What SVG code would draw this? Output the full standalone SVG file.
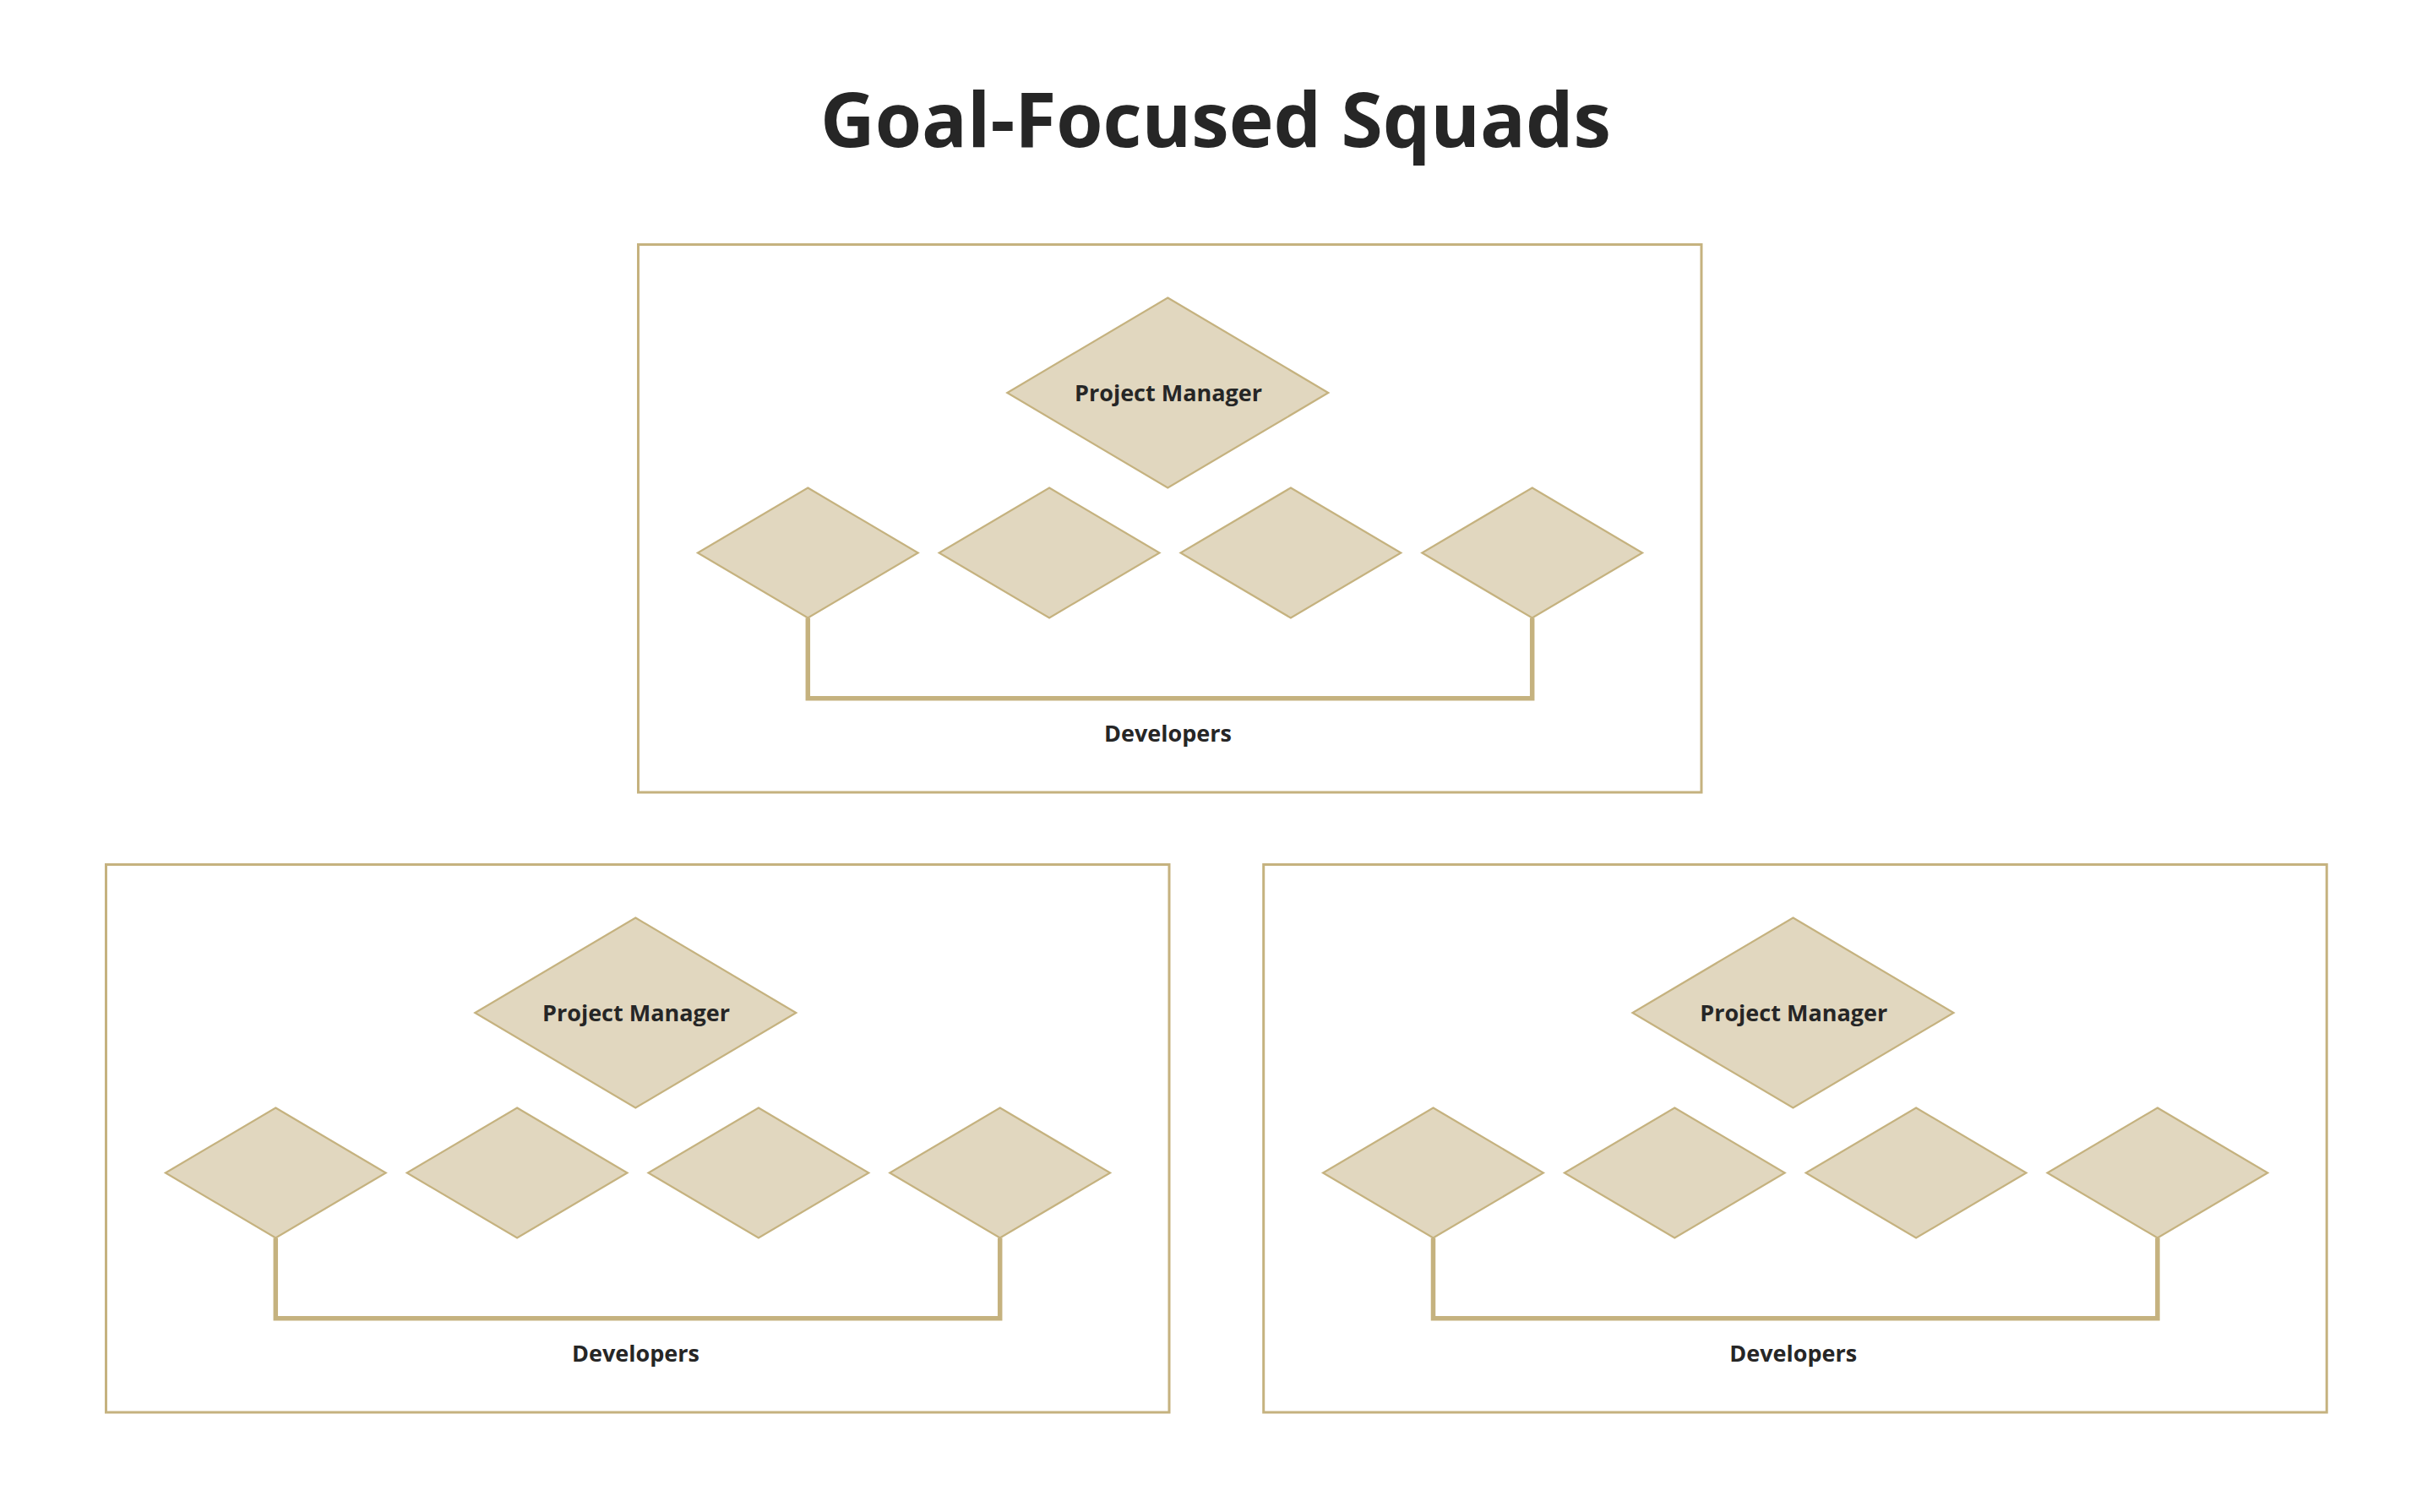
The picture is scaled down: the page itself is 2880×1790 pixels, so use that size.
<svg xmlns="http://www.w3.org/2000/svg" width="2880" height="1790" viewBox="0 0 2880 1790">
<defs>
<style>
.box{fill:#ffffff;stroke:#c5b27f;stroke-width:3}
.dia{fill:#e1d7bf;stroke:#c5b27f;stroke-width:2.2;stroke-linejoin:miter}
.conn{fill:none;stroke:#c5b27f;stroke-width:5.5;stroke-linejoin:miter;stroke-linecap:butt}
.lbl{font-family:"Open Sans","Noto Sans","DejaVu Sans",sans-serif;font-weight:700;font-size:27px;fill:#262626;text-anchor:middle}
.title{font-family:"Open Sans","Noto Sans","DejaVu Sans",sans-serif;font-weight:700;font-size:90px;fill:#262626;text-anchor:middle}
</style>
<polygon id="pmShape" points="0,-112.5 190,0 0,112.5 -190,0"/>
<polygon id="devShape" points="0,-77 130.4,0 0,77 -130.4,0"/>
</defs>
<rect width="2880" height="1790" fill="#ffffff"/>
<text class="title" x="1439" y="174" textLength="936" lengthAdjust="spacingAndGlyphs">Goal-Focused Squads</text>

<g id="squad-top">
  <g id="squad1-container"><rect class="box" x="755.5" y="289.5" width="1258.5" height="648.5"/></g>
</g>
<g id="squad-left" transform="translate(-630,734)">
  <g id="squad2-container"><rect class="box" x="755.5" y="289.5" width="1258.5" height="648.5"/></g>
</g>
<g id="squad-right" transform="translate(740.2,734)">
  <g id="squad3-container"><rect class="box" x="755.5" y="289.5" width="1258.5" height="648.5"/></g>
</g>

<g id="connectors">
  <path id="conn1" class="conn" d="M956.3 731.5 V826.8 H1813.7 V731.5"/>
  <path id="conn2" class="conn" transform="translate(-630,734)" d="M956.3 731.5 V826.8 H1813.7 V731.5"/>
  <path id="conn3" class="conn" transform="translate(740.2,734)" d="M956.3 731.5 V826.8 H1813.7 V731.5"/>
</g>

<g id="squad1-nodes">
  <g id="pm1"><use href="#pmShape" class="dia" x="1382.3" y="465"/><text class="lbl" x="1383" y="475">Project Manager</text></g>
  <g id="dev1a"><use href="#devShape" class="dia" x="956.3" y="654.5"/></g>
  <g id="dev1b"><use href="#devShape" class="dia" x="1242.1" y="654.5"/></g>
  <g id="dev1c"><use href="#devShape" class="dia" x="1527.9" y="654.5"/></g>
  <g id="dev1d"><use href="#devShape" class="dia" x="1813.7" y="654.5"/></g>
  <g id="devlabel1"><text class="lbl" x="1382.5" y="878">Developers</text></g>
</g>
<g id="squad2-nodes" transform="translate(-630,734)">
  <g id="pm2"><use href="#pmShape" class="dia" x="1382.3" y="465"/><text class="lbl" x="1383" y="475">Project Manager</text></g>
  <g id="dev2a"><use href="#devShape" class="dia" x="956.3" y="654.5"/></g>
  <g id="dev2b"><use href="#devShape" class="dia" x="1242.1" y="654.5"/></g>
  <g id="dev2c"><use href="#devShape" class="dia" x="1527.9" y="654.5"/></g>
  <g id="dev2d"><use href="#devShape" class="dia" x="1813.7" y="654.5"/></g>
  <g id="devlabel2"><text class="lbl" x="1382.5" y="878">Developers</text></g>
</g>
<g id="squad3-nodes" transform="translate(740.2,734)">
  <g id="pm3"><use href="#pmShape" class="dia" x="1382.3" y="465"/><text class="lbl" x="1383" y="475">Project Manager</text></g>
  <g id="dev3a"><use href="#devShape" class="dia" x="956.3" y="654.5"/></g>
  <g id="dev3b"><use href="#devShape" class="dia" x="1242.1" y="654.5"/></g>
  <g id="dev3c"><use href="#devShape" class="dia" x="1527.9" y="654.5"/></g>
  <g id="dev3d"><use href="#devShape" class="dia" x="1813.7" y="654.5"/></g>
  <g id="devlabel3"><text class="lbl" x="1382.5" y="878">Developers</text></g>
</g>
</svg>
